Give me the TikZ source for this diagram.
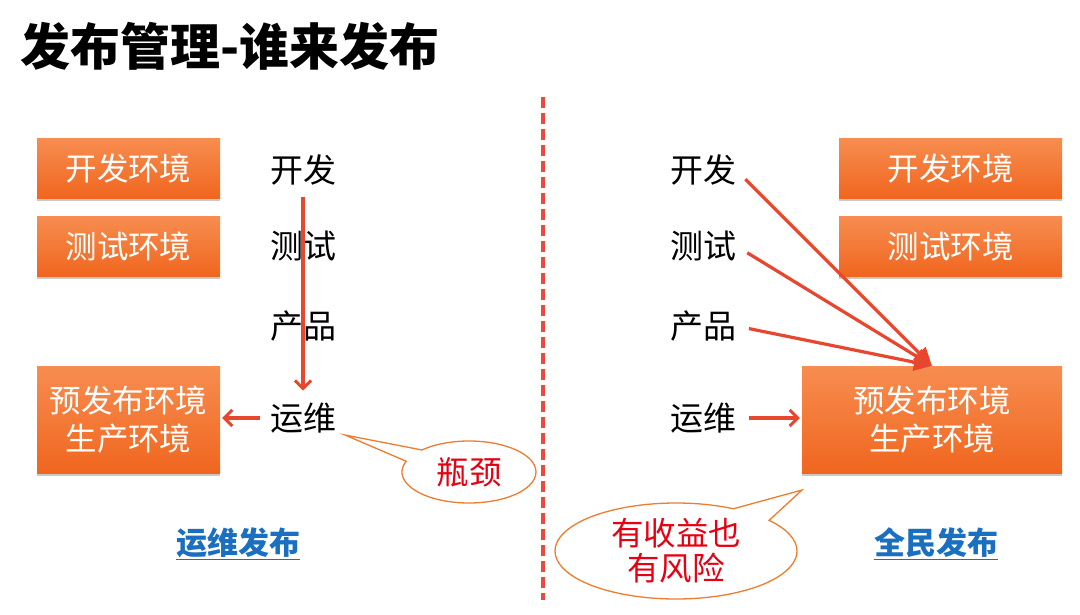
\documentclass[tikz,border=0pt]{standalone}
\usepackage{fontspec}
\setmainfont{Noto Sans CJK SC}
\usetikzlibrary{arrows.meta,shapes.callouts,shadows,calc}
\definecolor{boxtop}{HTML}{F78D50}
\definecolor{boxbot}{HTML}{F0661F}
\definecolor{arrowred}{HTML}{E8472F}
\definecolor{divred}{HTML}{E84A3C}
\definecolor{callor}{HTML}{ED7D31}
\definecolor{calltext}{HTML}{E60012}
\definecolor{linkblue}{HTML}{1A6FC0}
\begin{document}
\begin{tikzpicture}[x=1pt,y=-1pt,
  envbox/.style={rectangle, top color=boxtop, bottom color=boxbot, draw=none,
    text=white, font=\fontsize{31.5}{38}\selectfont, align=center, inner sep=0pt,
    drop shadow={shadow xshift=0pt, shadow yshift=-3pt, opacity=0.3, fill=black!70}},
  lbl/.style={font=\fontsize{33}{38}\selectfont, inner sep=0pt, text=black},
  flow/.style={draw=arrowred, line width=3.2pt,
    -{Straight Barb[length=8pt,width=16pt,line width=3pt]}},
  conv/.style={draw=arrowred, line width=3.2pt,
    -{Triangle[length=18pt,width=17pt]}},
  bubble/.style={ellipse callout, draw=callor, fill=white, line width=1.3pt,
    text=calltext, font=\fontsize{32.5}{35}\selectfont, align=center, inner sep=0pt,
    callout pointer arc=25},
  sideTitle/.style={font=\bfseries\fontsize{31}{34}\selectfont, text=linkblue, inner sep=0pt},
  divider/.style={draw=divred, line width=4.5pt, dash pattern=on 11pt off 5pt}
]
\useasboundingbox (0,0) rectangle (1080,614);

% title
\node[anchor=west, inner sep=0pt, font=\bfseries\fontsize{50}{56}\selectfont] (title) at (20,46) {发布管理-谁来发布};

% divider
\draw[divider] (543,97) -- (543,600);

% ---------- left side ----------
\node[envbox, minimum width=183pt, minimum height=60pt] (ldevenv) at (128.5,168) {开发环境};
\node[envbox, minimum width=183pt, minimum height=60pt] (ltestenv) at (128.5,246) {测试环境};
\node[envbox, minimum width=183pt, minimum height=107pt] (lprodenv) at (128.5,419.5) {预发布环境\\生产环境};

\node[lbl] (ldev) at (303,170) {开发};
\node[lbl] (ltest) at (303,246) {测试};
\node[lbl] (lprod) at (303,326) {产品};
\node[lbl] (lops) at (303,418) {运维};

\draw[flow, shorten <=11pt, shorten >=12pt] (ldev.south) -- (lops.north);
\draw[flow, shorten <=10pt, shorten >=2pt] (lops.west) -- (lops.west -| lprodenv.east);

\node[bubble, minimum width=134pt, minimum height=62pt, callout absolute pointer={(345,435)}] (bottle) at (469,472) {瓶颈};

\node[sideTitle] (lside) at (238,544) {\underline{运维发布}};

% ---------- right side ----------
\node[envbox, minimum width=223pt, minimum height=60pt] (rdevenv) at (950.5,168) {开发环境};
\node[envbox, minimum width=223pt, minimum height=60pt] (rtestenv) at (950.5,246) {测试环境};
\node[envbox, minimum width=260pt, minimum height=107pt] (rprodenv) at (932,419.5) {预发布环境\\生产环境};

\node[lbl] (rdev) at (703,170) {开发};
\node[lbl] (rtest) at (703,246) {测试};
\node[lbl] (rprod) at (703,326) {产品};
\node[lbl] (rops) at (703,418) {运维};

\draw[conv, shorten <=13pt] (rdev.east) -- (rprodenv.north);
\draw[conv, shorten <=13pt] (rtest.east) -- (rprodenv.north);
\draw[conv, shorten <=13pt] (rprod.east) -- (rprodenv.north);
\draw[flow, shorten <=13pt, shorten >=2pt] (rops.east) -- (rops.east -| rprodenv.west);

\node[bubble, minimum width=242pt, minimum height=96pt, callout pointer arc=22, callout absolute pointer={(802,490)}] (risk) at (676,551) {有收益也\\有风险};

\node[sideTitle] (rside) at (936,544) {\underline{全民发布}};
\end{tikzpicture}
\end{document}
